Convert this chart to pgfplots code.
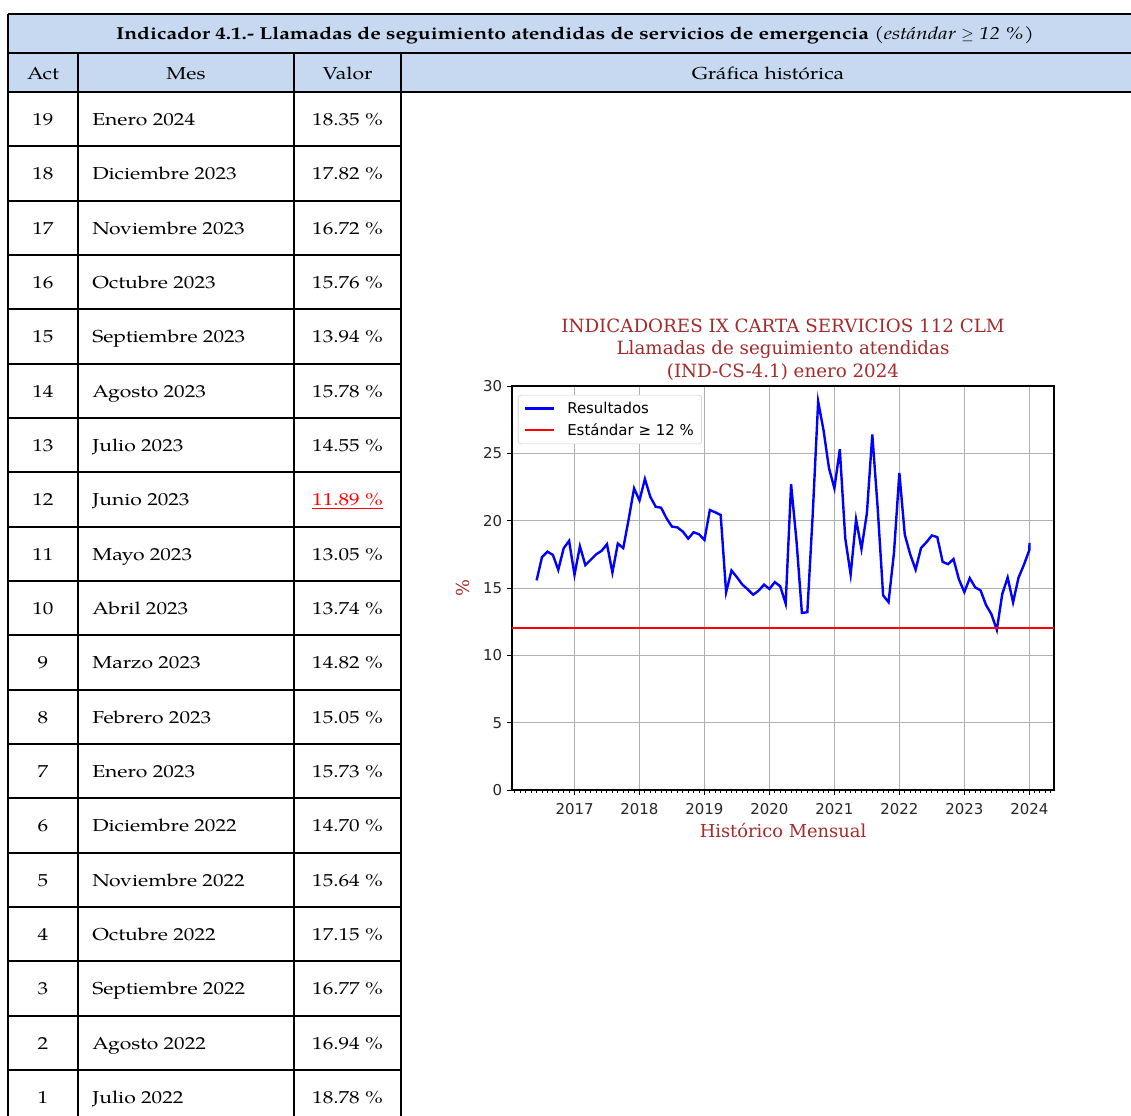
\documentclass[border=0pt]{standalone}
\usepackage{fontspec}
\setmainfont{TeX Gyre Pagella}[FakeStretch=1.22]
\newfontfamily\djsans{DejaVu Sans}
\newfontfamily\djserif{DejaVu Serif}
\usepackage{pgfplots}
\pgfplotsset{compat=1.18}
\definecolor{hdr}{HTML}{C6D9F1}
\definecolor{ttl}{HTML}{A52A2A}
\definecolor{gridc}{HTML}{B0B0B0}
\begin{document}
\begin{tikzpicture}[x=0.75pt,y=0.75pt,tab/.style={font=\fontsize{13pt}{15pt}\selectfont}]
\path[use as bounding box, fill=white] (0,0) rectangle (1131,1115);
% header background
\fill[hdr] (8,1101) rectangle (1135,1023);
\draw[line width=1.4pt] (8,1101) -- (1135,1101);
\draw[line width=1.4pt] (8,1062) -- (1135,1062);
\draw[line width=1.4pt] (8,1023) -- (1135,1023);
\draw[line width=1.4pt] (8,1101) -- (8,-5);
\foreach \xx in {78,294,401} \draw[line width=1.4pt] (\xx,1062) -- (\xx,-5);
\foreach \i in {1,...,18} \draw[line width=1.4pt] (8,{1023-54.33*\i}) -- (401,{1023-54.33*\i});
% texts
\node[tab,anchor=base,inner sep=0] at (575,1075.5) {\bfseries Indicador 4.1.- Llamadas de seguimiento atendidas de servicios de emergencia {\normalfont\itshape (estándar $\geq$ 12 \%)}};
\node[tab,anchor=base,inner sep=0] at (43,1035.5) {Act};
\node[tab,anchor=base,inner sep=0] at (186,1035.5) {Mes};
\node[tab,anchor=base,inner sep=0] at (347.5,1035.5) {Valor};
\node[tab,anchor=base,inner sep=0] at (768,1035.5) {Gráfica histórica};
\foreach \a/\m/\v [count=\i from 0] in {19/Enero 2024/18.35 \%, 18/Diciembre 2023/17.82 \%, 17/Noviembre 2023/16.72 \%, 16/Octubre 2023/15.76 \%, 15/Septiembre 2023/13.94 \%, 14/Agosto 2023/15.78 \%, 13/Julio 2023/14.55 \%, 12/Junio 2023/{\textcolor{red}{\underline{11.89 \%}}}, 11/Mayo 2023/13.05 \%, 10/Abril 2023/13.74 \%, 9/Marzo 2023/14.82 \%, 8/Febrero 2023/15.05 \%, 7/Enero 2023/15.73 \%, 6/Diciembre 2022/14.70 \%, 5/Noviembre 2022/15.64 \%, 4/Octubre 2022/17.15 \%, 3/Septiembre 2022/16.77 \%, 2/Agosto 2022/16.94 \%, 1/Julio 2022/18.78 \%}{
  \node[tab,anchor=base,inner sep=0] at (43,{989.5-54.33*\i}) {\a};
  \node[tab,anchor=base west,inner sep=0] at (92,{989.5-54.33*\i}) {\m};
  \node[tab,anchor=base,inner sep=0] at (347.5,{989.5-54.33*\i}) {\v};
}
\begin{axis}[
  at={(384pt,243.75pt)}, anchor=south west, scale only axis,
  width=406.5pt, height=303pt,
  xmin=2016.038, xmax=2024.38, ymin=0, ymax=30,
  xtick={2017,2018,2019,2020,2021,2022,2023,2024},
  xticklabels={2017,2018,2019,2020,2021,2022,2023,2024},
  ytick={0,5,10,15,20,25,30},
  yticklabels={0,5,10,15,20,25,30},
  minor xtick={2016.0833333,2016.1666667,...,2024.35},
  tick pos=left, tick align=outside,
  major tick length=3.9pt, minor tick length=2.2pt,
  every tick/.style={black, line width=0.7pt},
  grid=major, major grid style={gridc, line width=0.7pt},
  axis line style={black, line width=0.8pt},
  tick label style={font=\djsans\fontsize{11.2pt}{13pt}\selectfont, text=black!85},
  xticklabel style={yshift=-3pt},
  title={INDICADORES IX CARTA SERVICIOS 112 CLM\\Llamadas de seguimiento atendidas\\(IND-CS-4.1) enero 2024},
  title style={font=\djserif\fontsize{13.7pt}{16.6pt}\selectfont, text=ttl, align=center, at={(0.5,1)}, anchor=south, yshift=-5pt},
  xlabel={Histórico Mensual},
  xlabel style={font=\djserif\fontsize{13.4pt}{16pt}\selectfont, text=ttl, at={(axis description cs:0.5,-0.099)}, anchor=center},
  ylabel={\%},
  ylabel style={font=\djserif\fontsize{13.4pt}{16pt}\selectfont, text=ttl, at={(axis description cs:-0.090,0.5)}, anchor=center},
  legend style={at={(0.011,0.978)}, anchor=north west, draw=black!20, rounded corners=2pt, fill=white,
    font=\djsans\fontsize{11.2pt}{13pt}\selectfont, row sep=2pt, inner xsep=4pt, inner ysep=3pt},
  legend cell align=left,
  legend image code/.code={\draw[#1] (0pt,0pt) -- (22pt,0pt); \path (29pt,0pt);},
]
\addplot[blue, line width=1.8pt, mark=none] coordinates {
(2016.4167,15.57) (2016.5000,17.30) (2016.5833,17.70) (2016.6667,17.46) (2016.7500,16.35)
(2016.8333,17.95) (2016.9167,18.50) (2017.0000,15.98) (2017.0833,18.10) (2017.1667,16.70)
(2017.2500,17.10) (2017.3333,17.50) (2017.4167,17.76) (2017.5000,18.25) (2017.5833,16.15)
(2017.6667,18.30) (2017.7500,17.96) (2017.8333,20.10) (2017.9167,22.40) (2018.0000,21.50)
(2018.0833,23.10) (2018.1667,21.77) (2018.2500,21.03) (2018.3333,20.96) (2018.4167,20.17)
(2018.5000,19.56) (2018.5833,19.50) (2018.6667,19.19) (2018.7500,18.67) (2018.8333,19.14)
(2018.9167,18.99) (2019.0000,18.57) (2019.0833,20.79) (2019.1667,20.62) (2019.2500,20.42)
(2019.3333,14.68) (2019.4167,16.30) (2019.5000,15.80) (2019.5833,15.25) (2019.6667,14.90)
(2019.7500,14.50) (2019.8333,14.80) (2019.9167,15.25) (2020.0000,14.93) (2020.0833,15.44)
(2020.1667,15.12) (2020.2500,13.84) (2020.3333,22.70) (2020.4167,18.50) (2020.5000,13.15)
(2020.5833,13.20) (2020.6667,20.50) (2020.7500,28.85) (2020.8333,26.70) (2020.9167,23.90)
(2021.0000,22.40) (2021.0833,25.30) (2021.1667,18.70) (2021.2500,16.00) (2021.3333,20.10)
(2021.4167,17.90) (2021.5000,20.55) (2021.5833,26.40) (2021.6667,20.90) (2021.7500,14.45)
(2021.8333,13.95) (2021.9167,17.60) (2022.0000,23.54) (2022.0833,18.96) (2022.1667,17.50)
(2022.2500,16.36) (2022.3333,17.97) (2022.4167,18.40) (2022.5000,18.90) (2022.5833,18.78)
(2022.6667,16.94) (2022.7500,16.77) (2022.8333,17.15) (2022.9167,15.64) (2023.0000,14.70)
(2023.0833,15.73) (2023.1667,15.05) (2023.2500,14.82) (2023.3333,13.74) (2023.4167,13.05)
(2023.5000,11.89) (2023.5833,14.55) (2023.6667,15.78) (2023.7500,13.94) (2023.8333,15.76)
(2023.9167,16.72) (2024.0000,17.82) (2024.0030,18.35)
};
\addlegendentry{Resultados}
\addplot[red, line width=1.5pt, mark=none] coordinates {(2016.038,12) (2024.38,12)};
\addlegendentry{Estándar ≥ 12 \%}
\end{axis}
\end{tikzpicture}
\end{document}
